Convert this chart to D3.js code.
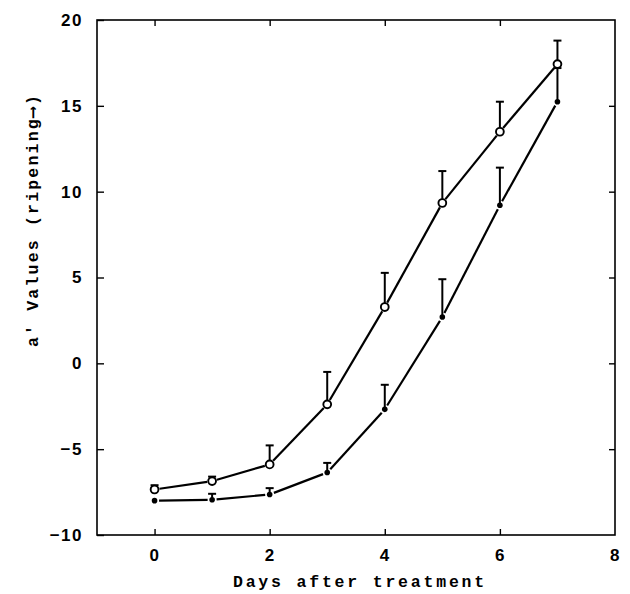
<!DOCTYPE html>
<html><head><meta charset="utf-8">
<script src="https://cdn.jsdelivr.net/npm/d3@7"></script>
<style>body{margin:0;background:#fff}</style>
</head><body>
<svg id="c" width="630" height="594"></svg>
<script>
const days = [0,1,2,3,4,5,6,7];
const openVals = [-7.35,-6.86,-5.89,-2.39,3.28,9.34,13.49,17.43];
const openErrTop = [-7.1,-6.6,-4.78,-0.5,5.27,11.2,15.24,18.8];
const filledVals = [-8.0,-7.95,-7.64,-6.36,-2.68,2.7,9.21,15.24];
const filledErrTop = [-8.0,-7.6,-7.27,-5.8,-1.25,4.9,11.4,17.2];
const xTicks = [0,2,4,6,8];
const yTicks = [-10,-5,0,5,10,15,20];

const svg = d3.select("#c");
const L=97,R=615,T=20,B=535;
const x = d3.scaleLinear().domain([-1,8]).range([L,R]);
const y = d3.scaleLinear().domain([-10,20]).range([B,T]);

// frame
svg.append("rect").attr("x",L).attr("y",T).attr("width",R-L).attr("height",B-T)
  .attr("fill","none").attr("stroke","#000").attr("stroke-width",1.6);

// axes (inward ticks)
const fmt = d => d<0 ? "\u2212"+Math.abs(d) : String(d);
const gx = svg.append("g").attr("transform",`translate(0,${B})`)
  .call(d3.axisBottom(x).tickValues(xTicks).tickSize(-6).tickPadding(14).tickFormat(fmt));
const gxt = svg.append("g").attr("transform",`translate(0,${T})`)
  .call(d3.axisTop(x).tickValues(xTicks.filter(d=>d<8)).tickSize(-6).tickFormat(""));
const gy = svg.append("g").attr("transform",`translate(${L},0)`)
  .call(d3.axisLeft(y).tickValues(yTicks).tickSize(-7).tickPadding(14).tickFormat(fmt));
const gyr = svg.append("g").attr("transform",`translate(${R},0)`)
  .call(d3.axisRight(y).tickValues(yTicks.filter(d=>d>-10&&d<20)).tickSize(-6).tickFormat(""));
[gx,gxt,gy,gyr].forEach(g=>{
  g.select(".domain").remove();
  g.selectAll(".tick line").attr("stroke","#000").attr("stroke-width",1.4);
  g.selectAll("text").attr("fill","#000").attr("font-family","'Liberation Sans',Arial,sans-serif")
    .attr("font-size",17).attr("font-weight","bold").style("letter-spacing","1.5px");
});
gx.selectAll(".tick").filter(d=>d===8).select("line").remove();

// error bars
function errBars(vals,tops){
  const g = svg.append("g").attr("stroke","#000").attr("stroke-width",2);
  days.forEach((d,i)=>{
    if (tops[i] <= vals[i]) return;
    g.append("line").attr("x1",x(d)).attr("x2",x(d)).attr("y1",y(vals[i])).attr("y2",y(tops[i]));
    g.append("line").attr("x1",x(d)-4).attr("x2",x(d)+4).attr("y1",y(tops[i])).attr("y2",y(tops[i]));
  });
}
errBars(filledVals,filledErrTop);
errBars(openVals,openErrTop);

// lines with small gaps near markers
function segs(vals,gap){
  const g = svg.append("g").attr("stroke","#000").attr("stroke-width",2.2).attr("fill","none");
  for(let i=0;i<days.length-1;i++){
    const x1=x(days[i]),y1=y(vals[i]),x2=x(days[i+1]),y2=y(vals[i+1]);
    const dx=x2-x1,dy=y2-y1,len=Math.hypot(dx,dy);
    const ux=dx/len,uy=dy/len;
    g.append("line").attr("x1",x1+ux*gap).attr("y1",y1+uy*gap)
      .attr("x2",x2-ux*gap).attr("y2",y2-uy*gap);
  }
}
segs(openVals,5);
segs(filledVals,4.5);

// markers
svg.append("g").selectAll("circle").data(days).join("circle")
  .attr("cx",d=>x(d)).attr("cy",(d,i)=>y(openVals[i])).attr("r",3.9)
  .attr("fill","#fff").attr("stroke","#000").attr("stroke-width",1.9);
svg.append("g").selectAll("circle").data(days).join("circle")
  .attr("cx",d=>x(d)).attr("cy",(d,i)=>y(filledVals[i])).attr("r",2.8)
  .attr("fill","#000");

// axis titles
svg.append("text").attr("x",360).attr("y",587).attr("text-anchor","middle")
  .attr("font-family","'Liberation Mono','DejaVu Sans Mono',monospace").attr("font-weight","bold")
  .attr("font-size",16.5).style("letter-spacing","2.8px").text("Days after treatment");
svg.append("text").attr("transform","translate(38,220) rotate(-90)").attr("text-anchor","middle")
  .attr("font-family","'Liberation Mono','DejaVu Sans Mono',monospace").attr("font-weight","bold")
  .attr("font-size",16.5).style("letter-spacing","2.2px").text("a' Values (ripening\u27F6)");
</script>
</body></html>
